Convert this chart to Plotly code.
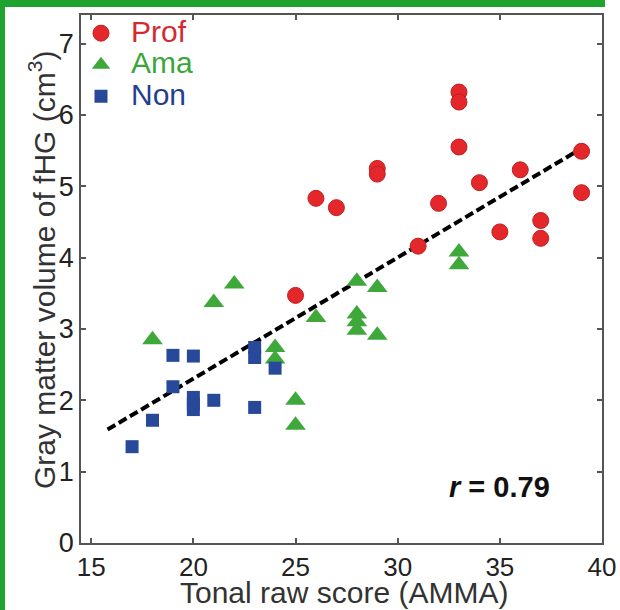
import plotly.graph_objects as go

# ---- data ----
prof_x = [25, 26, 27, 29, 29, 31, 32, 33, 33, 33, 34, 35, 36, 37, 37, 39, 39]
prof_y = [3.47, 4.83, 4.70, 5.25, 5.17, 4.16, 4.76, 6.32, 6.18, 5.55, 5.05, 4.36, 5.23, 4.52, 4.27, 5.49, 4.91]

ama_x = [18, 21, 22, 24, 24, 25, 25, 26, 28, 28, 28, 28, 29, 29, 33, 33]
ama_y = [2.85, 3.37, 3.63, 2.74, 2.58, 2.00, 1.65, 3.16, 3.67, 3.21, 3.10, 2.98, 3.58, 2.91, 4.08, 3.90]

non_x = [17, 18, 19, 19, 20, 20, 20, 20, 21, 23, 23, 23, 24]
non_y = [1.35, 1.72, 2.63, 2.19, 2.62, 2.04, 1.95, 1.87, 2.00, 1.90, 2.74, 2.60, 2.45]

fit_x = [15.8, 39.0]
fit_y = [1.59, 5.53]

x_ticks = [15, 20, 25, 30, 35, 40]
y_ticks = [0, 1, 2, 3, 4, 5, 6, 7]

x_title = "Tonal raw score (AMMA)"
y_title = "Gray matter volume of fHG (cm<sup>3</sup>)"

FONT = "Liberation Sans, Arial, sans-serif"
RED, GREEN, BLUE = "#e4272a", "#3fa83b", "#28489a"
AXC = "#555555"

# plot area geometry (pixels)
L, R, T, B = 81, 18, 15, 67
W, H = 620, 610
pw, ph = W - L - R, H - T - B


def legend_name(txt, color):
    return (f"<span style='font-size:36px'>&nbsp;</span>"
            f"<span style='color:{color};font-size:30px'>{txt}</span>")


fig = go.Figure()
fig.add_trace(go.Scatter(x=fit_x, y=fit_y, mode="lines", showlegend=False,
                         line=dict(color="black", width=4, dash="9px,4px")))
fig.add_trace(go.Scatter(x=prof_x, y=prof_y, mode="markers",
                         name=legend_name("Prof", "#d42a2f"),
                         marker=dict(symbol="circle", size=16, color=RED,
                                     line=dict(color="#c01f22", width=1))))
fig.add_trace(go.Scatter(x=ama_x, y=ama_y, mode="markers",
                         name=legend_name("Ama", "#3aa63a"),
                         marker=dict(symbol="triangle-up", size=18, color=GREEN,
                                     line=dict(width=0))))
fig.add_trace(go.Scatter(x=non_x, y=non_y, mode="markers",
                         name=legend_name("Non", "#243f8f"),
                         marker=dict(symbol="square", size=13, color=BLUE,
                                     line=dict(width=0))))

fig.add_annotation(x=35.0, y=0.79, xref="x", yref="y", showarrow=False,
                   text="<b><i>r</i> = 0.79</b>",
                   font=dict(family=FONT, size=29, color="#111111"))

# axis titles as annotations for exact placement
fig.add_annotation(x=(344 - L) / pw, y=(H - B - 592) / ph, xref="paper", yref="paper",
                   showarrow=False, text=x_title, xanchor="center", yanchor="middle",
                   font=dict(family=FONT, size=30, color="#333333"))
fig.add_annotation(x=(42 - L) / pw, y=(H - B - 270) / ph, xref="paper", yref="paper",
                   showarrow=False, text=y_title, textangle=-90,
                   xanchor="center", yanchor="middle",
                   font=dict(family=FONT, size=30, color="#333333"))

# green frame strips (decorative)
fig.add_shape(type="rect", xref="paper", yref="paper",
              x0=-(L + 5) / pw, x1=(5 - L) / pw, y0=-1.0, y1=1 + (T + 10) / ph,
              fillcolor="#20a22f", line=dict(width=0), layer="above")
fig.add_shape(type="rect", xref="paper", yref="paper",
              x0=-(L + 5) / pw, x1=(605 - L) / pw, y0=1 + (T - 7) / ph, y1=1 + (T + 10) / ph,
              fillcolor="#20a22f", line=dict(width=0), layer="above")

fig.update_layout(
    width=W, height=H,
    margin=dict(l=L, r=R, t=T, b=B, autoexpand=False),
    paper_bgcolor="white", plot_bgcolor="white",
    font=dict(family=FONT, size=28, color="#222222"),
    legend=dict(x=0.0, y=1.005, xanchor="left", yanchor="top",
                bgcolor="rgba(0,0,0,0)", font=dict(size=22),
                itemsizing="trace", itemwidth=30, tracegroupgap=0),
    xaxis=dict(range=[14.5, 40.0], tickvals=x_ticks, showgrid=False, zeroline=False,
               automargin=False,
               showline=True, linecolor=AXC, linewidth=1.5, mirror="ticks",
               ticks="inside", ticklen=5, tickcolor=AXC, tickwidth=1.5,
               tickfont=dict(size=26, color="#222222")),
    yaxis=dict(range=[0, 7.4], tickvals=y_ticks, showgrid=False, zeroline=False,
               automargin=False,
               showline=True, linecolor=AXC, linewidth=1.5, mirror="ticks",
               ticks="inside", ticklen=5, tickcolor=AXC, tickwidth=1.5,
               tickfont=dict(size=27, color="#222222")),
)

fig.write_html("out.html", config={"displayModeBar": False},
               post_script="document.body.style.margin='0px';")
